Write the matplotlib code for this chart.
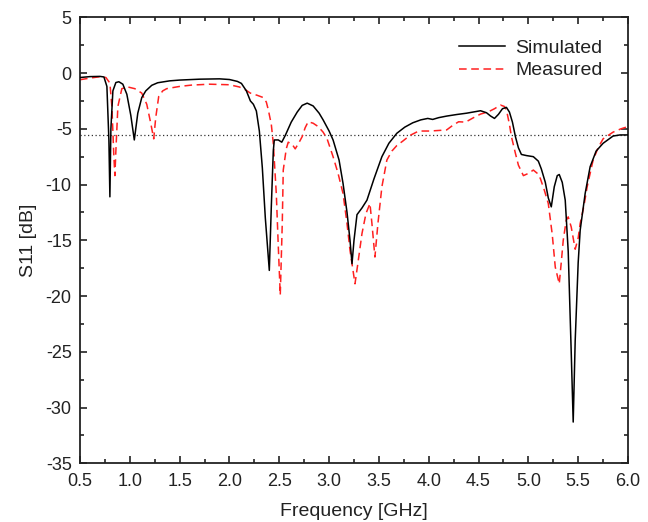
import matplotlib
matplotlib.use("Agg")
import matplotlib.pyplot as plt
from matplotlib.ticker import MultipleLocator, FormatStrFormatter

plt.rcParams['font.family'] = ['Liberation Sans', 'DejaVu Sans']
plt.rcParams['axes.unicode_minus'] = False

sim_f = [0.50, 0.60, 0.70, 0.74, 0.77, 0.79, 0.80, 0.81, 0.83, 0.86, 0.89, 0.93, 0.97,
         1.01, 1.045, 1.08, 1.12, 1.16, 1.22, 1.28, 1.40, 1.50, 1.70, 1.90, 2.00, 2.08,
         2.12, 2.17, 2.21, 2.24, 2.27, 2.30, 2.33, 2.36, 2.40, 2.42, 2.44, 2.45, 2.49,
         2.525, 2.56, 2.62, 2.68, 2.73, 2.78, 2.84, 2.90, 2.94, 3.00, 3.04, 3.10, 3.14,
         3.18, 3.21, 3.23, 3.25, 3.28, 3.33, 3.38, 3.45, 3.53, 3.60, 3.68, 3.76, 3.84,
         3.92, 3.99, 4.04, 4.10, 4.18, 4.28, 4.38, 4.52, 4.58, 4.62, 4.66, 4.70, 4.74,
         4.78, 4.81, 4.84, 4.87, 4.90, 4.93, 4.98, 5.05, 5.10, 5.13, 5.17, 5.20, 5.23,
         5.26, 5.29, 5.31, 5.34, 5.37, 5.40, 5.43, 5.45, 5.47, 5.50, 5.52, 5.57, 5.62,
         5.68, 5.75, 5.85, 5.92, 6.00]
sim_db = [-0.40, -0.32, -0.30, -0.35, -1.2, -6.0, -11.1, -5.0, -1.6, -0.85, -0.78, -1.0, -1.9,
          -3.8, -6.0, -3.6, -2.2, -1.6, -1.1, -0.87, -0.70, -0.63, -0.55, -0.52, -0.58, -0.75,
          -0.93, -1.6, -2.5, -2.8, -3.4, -5.2, -8.5, -13.0, -17.7, -12.0, -7.0, -6.0, -6.0,
          -6.2, -5.6, -4.4, -3.5, -2.9, -2.7, -2.95, -3.6, -4.2, -5.2, -6.0, -7.8, -9.9,
          -12.5, -15.0, -17.1, -15.0, -12.7, -12.1, -11.4, -9.5, -7.5, -6.3, -5.4, -4.85, -4.46,
          -4.2, -4.07, -4.16, -4.0, -3.86, -3.72, -3.6, -3.38, -3.56, -3.85, -4.07, -3.7, -3.2,
          -3.08, -3.5, -4.4, -5.7, -6.7, -7.3, -7.4, -7.5, -7.9, -8.6, -9.8, -11.2, -12.0,
          -10.2, -9.2, -9.1, -9.8, -11.4, -16.0, -25.0, -31.3, -24.0, -17.0, -14.1, -10.8, -8.4,
          -7.0, -6.3, -5.65, -5.55, -5.55]

meas_f = [0.50, 0.60, 0.70, 0.76, 0.80, 0.82, 0.84, 0.85, 0.86, 0.88, 0.92, 0.98, 1.05,
          1.12, 1.17, 1.21, 1.24, 1.26, 1.29, 1.33, 1.37, 1.50, 1.62, 1.80, 2.00, 2.10,
          2.16, 2.21, 2.28, 2.34, 2.37, 2.39, 2.42, 2.44, 2.47, 2.49, 2.51, 2.53, 2.54,
          2.57, 2.59, 2.63, 2.66, 2.70, 2.73, 2.76, 2.79, 2.84, 2.89, 2.94, 2.98, 3.04,
          3.09, 3.14, 3.18, 3.21, 3.26, 3.29, 3.33, 3.37, 3.41, 3.43, 3.46, 3.49, 3.53,
          3.58, 3.63, 3.68, 3.74, 3.81, 3.90, 4.01, 4.10, 4.18, 4.24, 4.30, 4.37, 4.45,
          4.52, 4.60, 4.66, 4.72, 4.76, 4.78, 4.81, 4.83, 4.87, 4.90, 4.95, 5.00, 5.05,
          5.09, 5.12, 5.16, 5.20, 5.24, 5.27, 5.31, 5.33, 5.35, 5.38, 5.40, 5.43, 5.47,
          5.50, 5.52, 5.56, 5.59, 5.65, 5.70, 5.75, 5.85, 5.93, 6.00]
meas_db = [-0.60, -0.45, -0.33, -0.40, -0.9, -3.0, -7.5, -9.2, -7.0, -3.0, -1.4, -1.25, -1.4,
           -1.8, -2.8, -4.5, -5.9, -4.0, -2.1, -1.6, -1.4, -1.2, -1.08, -1.0, -1.05, -1.25,
           -1.5, -1.8, -2.0, -2.2, -2.6, -3.3, -4.6, -6.3, -10.8, -15.5, -19.9, -13.5, -8.7,
           -6.8, -6.2, -6.4, -6.8, -6.2, -5.7, -4.9, -4.37, -4.5, -4.8, -5.3, -5.9, -7.5,
           -9.0, -10.8, -13.5, -15.9, -18.9, -17.0, -14.4, -12.6, -11.7, -13.5, -16.5, -13.5, -10.2,
           -7.8, -7.0, -6.5, -6.1, -5.6, -5.2, -5.2, -5.15, -5.1, -4.7, -4.37, -4.4, -4.0,
           -3.68, -3.47, -3.2, -2.87, -3.0, -3.3, -4.6, -5.7, -7.2, -8.26, -9.2, -9.0, -8.7,
           -9.0, -9.45, -10.5, -11.7, -14.5, -17.4, -18.9, -17.0, -15.0, -13.2, -12.9, -13.8, -15.8,
           -14.8, -13.5, -11.8, -10.2, -7.8, -6.7, -5.9, -5.3, -5.0, -4.8]

ref_level = -5.6

fig = plt.figure(figsize=(6.48, 5.22), dpi=100)
ax = fig.add_axes([80/648, 1-463.3/522, 548/648, (463.3-17.3)/522])

ax.axhline(ref_level, color='#333333', linestyle=(0, (1, 2)), linewidth=0.9, zorder=1)
ax.plot(sim_f, sim_db, color='black', linewidth=1.1, label='Simulated', zorder=3)
ax.plot(meas_f, meas_db, color='#ff2020', linewidth=1.1, linestyle=(0, (5, 3)),
        label='Measured', zorder=2)

ax.set_xlim(0.5, 6.0)
ax.set_ylim(-35, 5)
ax.xaxis.set_major_locator(MultipleLocator(0.5))
ax.xaxis.set_minor_locator(MultipleLocator(0.25))
ax.yaxis.set_major_locator(MultipleLocator(5))
ax.yaxis.set_minor_locator(MultipleLocator(2.5))
ax.xaxis.set_major_formatter(FormatStrFormatter('%.1f'))
ax.yaxis.set_major_formatter(FormatStrFormatter('%d'))
ax.tick_params(which='both', direction='in', top=True, right=True, labelsize=13, width=1.2,
               colors='#222222')
ax.tick_params(axis='x', which='major', pad=7)
ax.tick_params(axis='y', which='major', pad=6)
ax.tick_params(which='major', length=5)
ax.tick_params(which='minor', length=3)
for s in ax.spines.values():
    s.set_linewidth(1.3)
    s.set_color('#222222')

ax.set_xlabel('Frequency [GHz]', fontsize=14, labelpad=9, color='#222222')
ax.set_ylabel('S11 [dB]', fontsize=14, labelpad=6, color='#222222')

leg = ax.legend(loc='upper right', frameon=False, fontsize=14, handlelength=2.4,
                handletextpad=0.5, labelspacing=0.25, bbox_to_anchor=(0.985, 0.99))
for t in leg.get_texts():
    t.set_color('#222222')

fig.savefig('out.png', dpi=100)
